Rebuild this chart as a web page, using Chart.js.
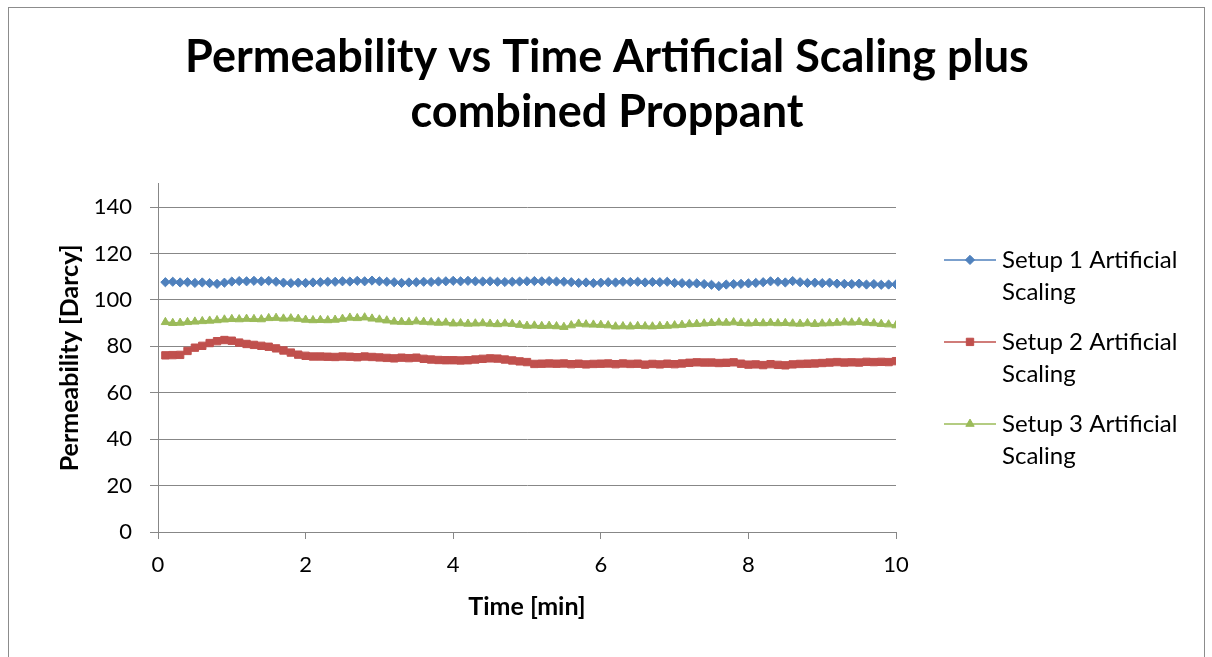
<!DOCTYPE html>
<html>
<head>
<meta charset="utf-8">
<title>Permeability vs Time</title>
<script src="https://cdn.jsdelivr.net/npm/chart.js@4.4.1/dist/chart.umd.min.js"></script>
<style>
  html, body { margin: 0; padding: 0; background: #ffffff; }
  #wrap { width: 1212px; height: 657px; }
</style>
</head>
<body>
<div id="wrap"><canvas id="chart" width="1212" height="657"></canvas></div>
<script>
// Elapsed time of each reading [min]
const timeMin = [
  0.1, 0.2, 0.3, 0.4, 0.5, 0.6, 0.7, 0.8, 0.9, 1.0,
  1.1, 1.2, 1.3, 1.4, 1.5, 1.6, 1.7, 1.8, 1.9, 2.0,
  2.1, 2.2, 2.3, 2.4, 2.5, 2.6, 2.7, 2.8, 2.9, 3.0,
  3.1, 3.2, 3.3, 3.4, 3.5, 3.6, 3.7, 3.8, 3.9, 4.0,
  4.1, 4.2, 4.3, 4.4, 4.5, 4.6, 4.7, 4.8, 4.9, 5.0,
  5.1, 5.2, 5.3, 5.4, 5.5, 5.6, 5.7, 5.8, 5.9, 6.0,
  6.1, 6.2, 6.3, 6.4, 6.5, 6.6, 6.7, 6.8, 6.9, 7.0,
  7.1, 7.2, 7.3, 7.4, 7.5, 7.6, 7.7, 7.8, 7.9, 8.0,
  8.1, 8.2, 8.3, 8.4, 8.5, 8.6, 8.7, 8.8, 8.9, 9.0,
  9.1, 9.2, 9.3, 9.4, 9.5, 9.6, 9.7, 9.8, 9.9, 10.0
];

// Permeability [Darcy], setup 1
const setup1 = [
  107.6, 107.8, 107.5, 107.6, 107.3, 107.5, 107.2, 106.9, 107.4, 107.9,
  108.1, 108.0, 108.2, 108.0, 108.2, 107.8, 107.4, 107.2, 107.4, 107.3,
  107.5, 107.6, 107.8, 107.8, 108.0, 107.9, 108.2, 108.0, 108.3, 108.0,
  107.8, 107.6, 107.3, 107.5, 107.6, 107.8, 107.7, 107.9, 108.0, 108.2,
  108.0, 108.2, 108.0, 107.9, 108.0, 107.8, 107.7, 107.8, 107.9, 108.0,
  108.1, 108.0, 108.1, 107.9, 107.8, 107.6, 107.3, 107.5, 107.2, 107.4,
  107.6, 107.5, 107.8, 107.7, 107.8, 107.5, 107.7, 107.6, 107.8, 107.3,
  107.2, 107.0, 107.1, 106.8, 106.5, 105.9, 106.6, 106.8, 106.9, 107.1,
  107.3, 107.6, 108.0, 107.8, 107.5, 108.1, 107.6, 107.3, 107.4, 107.2,
  107.4, 107.0, 106.9, 106.8, 107.0, 106.6, 106.8, 106.5, 106.6, 106.7
];

// Permeability [Darcy], setup 2
const setup2 = [
  76.1, 76.2, 76.3, 78.0, 79.4, 80.2, 81.4, 82.2, 82.7, 82.4,
  81.6, 81.0, 80.6, 80.2, 79.8, 79.1, 78.2, 77.3, 76.4, 75.9,
  75.6, 75.6, 75.5, 75.4, 75.6, 75.5, 75.3, 75.6, 75.4, 75.2,
  75.0, 74.8, 75.1, 74.9, 75.1, 74.6, 74.3, 74.1, 74.0, 74.0,
  73.9, 74.0, 74.3, 74.6, 74.8, 74.7, 74.3, 73.9, 73.5, 73.2,
  72.4, 72.5, 72.6, 72.5, 72.6, 72.3, 72.5, 72.2, 72.4, 72.5,
  72.6, 72.3, 72.6, 72.4, 72.5, 72.1, 72.4, 72.2, 72.5, 72.3,
  72.6, 72.9, 73.1, 73.0, 73.0, 72.8, 72.9, 73.1, 72.5, 72.1,
  72.2, 71.9, 72.3, 72.0, 71.8, 72.2, 72.4, 72.5, 72.6, 72.8,
  73.0, 73.2, 73.0, 73.1, 73.0, 73.3, 73.2, 73.3, 73.2, 73.6
];

// Permeability [Darcy], setup 3
const setup3 = [
  90.4, 90.0, 90.1, 90.4, 90.6, 90.8, 91.0, 91.2, 91.5, 91.7,
  91.6, 91.8, 91.7, 91.6, 92.1, 92.2, 91.9, 92.0, 91.8, 91.4,
  91.2, 91.3, 91.2, 91.4, 91.8, 92.3, 92.1, 92.4, 91.9, 91.5,
  91.1, 90.6, 90.5, 90.4, 90.7, 90.5, 90.3, 90.1, 90.2, 89.8,
  89.9, 89.7, 89.8, 89.9, 89.7, 89.5, 89.8, 89.6, 89.2, 88.8,
  88.9, 88.7, 88.8, 88.6, 88.3, 89.0, 89.7, 89.4, 89.3, 89.2,
  89.0, 88.5, 88.6, 88.5, 88.7, 88.6, 88.5, 88.7, 88.8, 89.0,
  89.2, 89.5, 89.6, 89.8, 90.0, 90.2, 90.1, 90.3, 90.0, 89.8,
  90.0, 89.9, 90.1, 89.9, 90.0, 89.8, 89.7, 89.9, 89.6, 89.8,
  89.9, 90.1, 90.3, 90.2, 90.4, 90.1, 89.9, 89.6, 89.4, 89.0
];

const seriesNames = [
  'Setup 1 Artificial Scaling',
  'Setup 2 Artificial Scaling',
  'Setup 3 Artificial Scaling'
];

const xTicks = [0, 2, 4, 6, 8, 10];
const yTicks = [0, 20, 40, 60, 80, 100, 120, 140];

const titleLines = ['Permeability vs Time Artificial Scaling plus', 'combined Proppant'];
const xTitle = 'Time [min]';
const yTitle = 'Permeability [Darcy]';

// ---------------------------------------------------------------------------

const FONT = 'Lato, "Open Sans", "DejaVu Sans", sans-serif';
const GRID = '#878787';

const toPoints = (vals) => vals.map((v, i) => ({ x: timeMin[i], y: v }));

const styles = [
  { color: '#4F81BD', pointStyle: 'rectRot', radius: 4.6 },
  { color: '#C0504D', pointStyle: 'rect', radius: 5.2 },
  { color: '#9BBB59', pointStyle: 'triangle', radius: 4.8 }
];

const datasets = [setup1, setup2, setup3].map((vals, i) => ({
  label: seriesNames[i],
  data: toPoints(vals),
  borderColor: styles[i].color,
  backgroundColor: styles[i].color,
  borderWidth: 2,
  pointStyle: styles[i].pointStyle,
  pointRadius: styles[i].radius,
  pointBackgroundColor: styles[i].color,
  pointBorderColor: styles[i].color,
  pointBorderWidth: 1,
  tension: 0
}));

// Draws a marker glyph for the side legend
function drawMarker(ctx, style, radius, x, y) {
  ctx.beginPath();
  if (style === 'rect') {
    const s = Math.SQRT1_2 * radius;
    ctx.rect(x - s, y - s, 2 * s, 2 * s);
  } else if (style === 'rectRot') {
    const s = radius;
    ctx.moveTo(x, y - s);
    ctx.lineTo(x + s, y);
    ctx.lineTo(x, y + s);
    ctx.lineTo(x - s, y);
    ctx.closePath();
  } else {
    const r = radius;
    ctx.moveTo(x, y - r);
    ctx.lineTo(x + r * 0.866, y + r * 0.5);
    ctx.lineTo(x - r * 0.866, y + r * 0.5);
    ctx.closePath();
  }
  ctx.fill();
  ctx.stroke();
}

function wrapWords(ctx, text, maxWidth) {
  const words = text.split(' ');
  const lines = [];
  let cur = '';
  words.forEach((w) => {
    const trial = cur ? cur + ' ' + w : w;
    if (cur && ctx.measureText(trial).width > maxWidth) {
      lines.push(cur);
      cur = w;
    } else {
      cur = trial;
    }
  });
  if (cur) lines.push(cur);
  return lines;
}

// Legend placed to the right of the plot, with wrapped entry text
const sideLegend = {
  id: 'sideLegend',
  beforeInit(chart) {
    const box = {
      position: 'right',
      weight: 10,
      fullSize: false,
      options: {},
      width: 0, height: 0, top: 0, left: 0, right: 0, bottom: 0,
      isHorizontal() { return false; },
      update(maxWidth, maxHeight) {
        this.width = 308;
        this.height = maxHeight;
      },
      draw() {
        const ctx = chart.ctx;
        const lineGap = 32;
        const itemGap = 18;
        ctx.save();
        ctx.font = '24px ' + FONT;
        ctx.textBaseline = 'middle';
        ctx.textAlign = 'left';
        const items = chart.data.datasets.map((ds) => wrapWords(ctx, ds.label, 195));
        let total = 0;
        items.forEach((lines, i) => {
          total += lines.length * lineGap + (i < items.length - 1 ? itemGap : 0);
        });
        const area = chart.chartArea;
        let y = (area.top + area.bottom) / 2 - total / 2 + lineGap / 2;
        items.forEach((lines, i) => {
          const ds = chart.data.datasets[i];
          const x0 = this.left + 48;
          ctx.strokeStyle = ds.borderColor;
          ctx.lineWidth = 1.5;
          ctx.beginPath();
          ctx.moveTo(x0, y);
          ctx.lineTo(x0 + 52, y);
          ctx.stroke();
          ctx.fillStyle = ds.borderColor;
          ctx.lineWidth = 1;
          drawMarker(ctx, ds.pointStyle, ds.pointRadius, x0 + 26, y);
          ctx.fillStyle = '#000000';
          lines.forEach((ln, k) => {
            ctx.fillText(ln, this.left + 106, y + k * lineGap);
          });
          y += lines.length * lineGap + itemGap;
        });
        ctx.restore();
      }
    };
    Chart.layouts.addBox(chart, box);
  }
};

// Outer chart frame and white background
const frame = {
  id: 'frame',
  beforeDraw(chart) {
    const ctx = chart.ctx;
    ctx.save();
    ctx.fillStyle = '#ffffff';
    ctx.fillRect(0, 0, chart.width, chart.height);
    ctx.strokeStyle = '#8c8c8c';
    ctx.lineWidth = 1;
    ctx.strokeRect(8.5, 7.5, chart.width - 16, chart.height + 10);
    ctx.restore();
  }
};

new Chart(document.getElementById('chart'), {
  type: 'line',
  data: { datasets },
  plugins: [frame, sideLegend],
  options: {
    responsive: false,
    animation: false,
    devicePixelRatio: 1,
    layout: { padding: { left: 10, right: 8, top: 0, bottom: 10 } },
    plugins: {
      legend: { display: false },
      tooltip: { enabled: false },
      title: {
        display: true,
        text: titleLines,
        color: '#000000',
        font: { family: FONT, size: 45, weight: 'bold', lineHeight: 1.22 },
        padding: { top: 30, bottom: 44 }
      }
    },
    scales: {
      x: {
        type: 'linear',
        min: 0,
        max: 10,
        afterBuildTicks(scale) { scale.ticks = xTicks.map((v) => ({ value: v })); },
        afterFit(scale) { scale.height = 115; },
        grid: { drawOnChartArea: false, drawTicks: true, tickLength: 7, color: GRID, lineWidth: 1 },
        border: { display: true, color: GRID, width: 1 },
        ticks: { color: '#000000', font: { family: FONT, size: 22 }, padding: 13, maxRotation: 0 },
        title: {
          display: true, text: xTitle, color: '#000000',
          font: { family: FONT, size: 25, weight: 'bold', lineHeight: 1.2 },
          padding: { top: 0, bottom: 25 }
        }
      },
      y: {
        type: 'linear',
        min: 0,
        max: 150,
        afterBuildTicks(scale) { scale.ticks = yTicks.map((v) => ({ value: v })); },
        afterFit(scale) { scale.width = 148; },
        grid: { drawOnChartArea: true, drawTicks: true, tickLength: 8, color: GRID, lineWidth: 1 },
        border: { display: true, color: GRID, width: 1 },
        ticks: { color: '#000000', font: { family: FONT, size: 22 }, padding: 18 },
        title: {
          display: true, text: yTitle, color: '#000000',
          font: { family: FONT, size: 25, weight: 'bold', lineHeight: 1.2 },
          padding: { top: 45, bottom: 0 }
        }
      }
    }
  }
});
</script>
</body>
</html>
